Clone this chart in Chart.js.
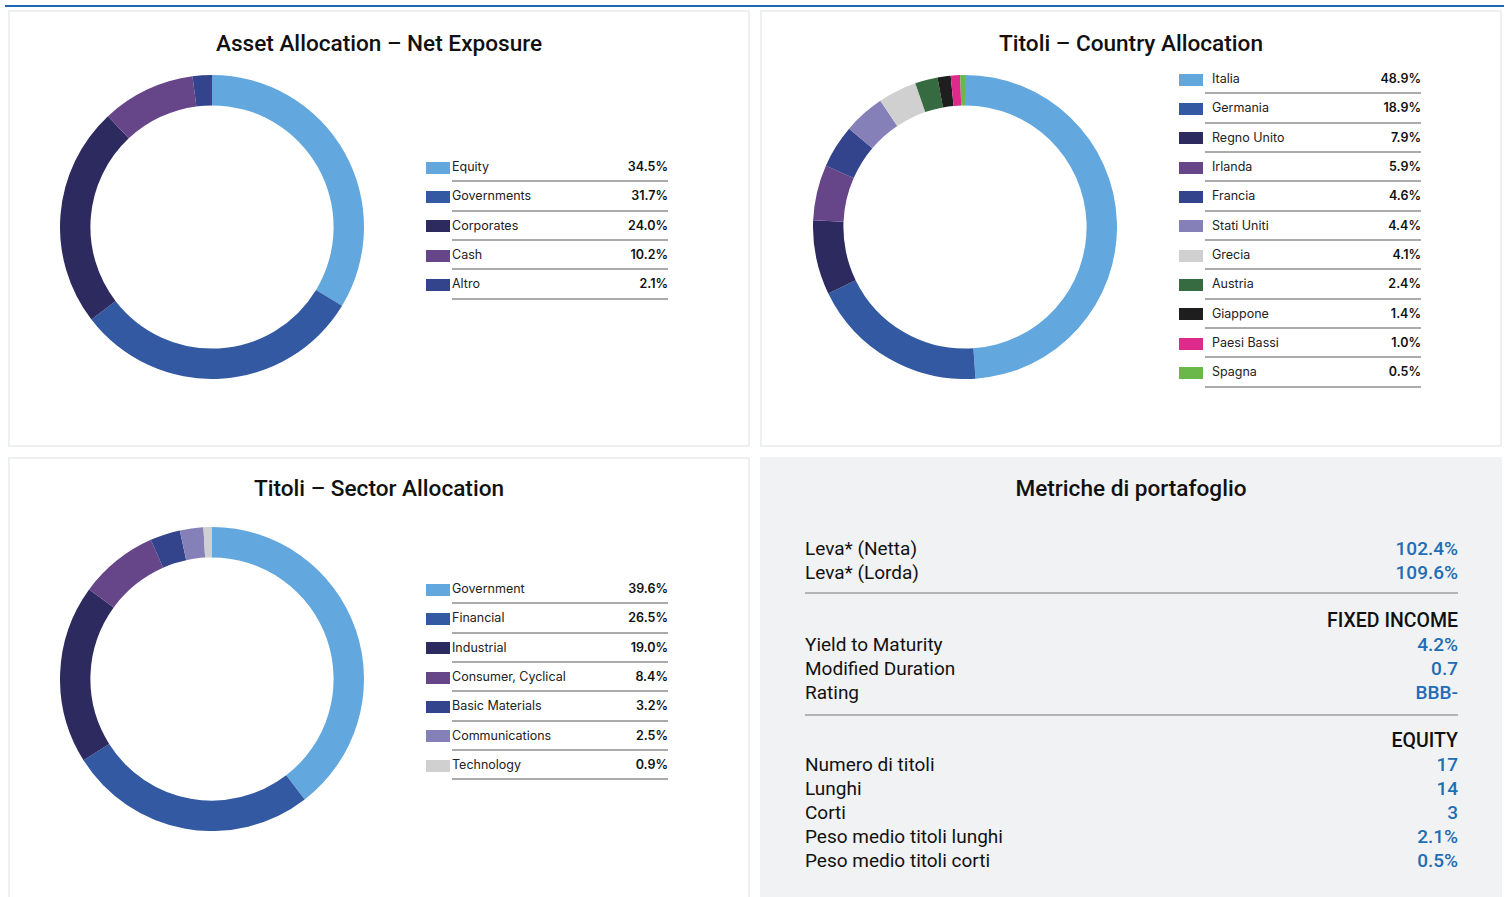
<!DOCTYPE html>
<html>
<head>
<meta charset="utf-8">
<script src="https://cdn.jsdelivr.net/npm/chart.js"></script>
<style>
  html, body { margin: 0; padding: 0; background: #fff; }
  body { width: 1510px; height: 897px; position: relative; overflow: hidden; font-family: Roboto, sans-serif; color: #111; }
  .topline { position: absolute; left: 5px; top: 5px; width: 1499px; height: 2px; background: #1a67b4; }
  .panel { position: absolute; box-sizing: border-box; border: 2px solid #eeeff1; }
  .panel.grey { background: #f1f2f4; border-color: #f1f2f4; }
  .title { position: absolute; width: 742px; text-align: center; font-size: 22.6px; font-weight: 500; color: #111; }
  .donut { position: absolute; width: 304px; height: 304px; }
  .legend { position: absolute; font-family: Inter, sans-serif; font-size: 12.5px; }
  .row { display: flex; align-items: center; height: 29.33px; }
  .sw { width: 24px; height: 12px; flex: none; margin-right: 2px; }
  .txt { flex: 1; height: 27.33px; border-bottom: 2px solid #ababab; display: flex; justify-content: space-between; align-items: center; box-sizing: content-box; color: #222; }
  .txt .v { font-weight: 600; color: #111; }
  .metrics { position: absolute; left: 805px; top: 537px; width: 653px; font-size: 19px; }
  .mrow { display: flex; justify-content: space-between; height: 24px; line-height: 24px; }
  .mrow .v { color: #1f6db5; font-weight: 500; }
  .mhead { text-align: right; height: 24px; line-height: 24px; font-weight: 500; font-size: 19.5px; }
  .sep { height: 2px; background: #b4b4b4; margin: 7px 0 15px 0; }
</style>
</head>
<body>
<div class="topline"></div>
<div class="panel" style="left:8px;top:10px;width:742px;height:437px;"></div>
<div class="panel" style="left:760px;top:10px;width:742px;height:437px;"></div>
<div class="panel" style="left:8px;top:457px;width:742px;height:450px;"></div>
<div class="panel grey" style="left:760px;top:457px;width:742px;height:450px;"></div>

<div class="title" style="left:8px;top:30px;">Asset Allocation – Net Exposure</div>
<div class="title" style="left:760px;top:30px;">Titoli – Country Allocation</div>
<div class="title" style="left:8px;top:475px;">Titoli – Sector Allocation</div>
<div class="title" style="left:760px;top:475px;">Metriche di portafoglio</div>

<div class="donut" style="left:60px;top:75px;"><canvas id="assetChart"></canvas></div>
<div class="donut" style="left:813px;top:75px;"><canvas id="countryChart"></canvas></div>
<div class="donut" style="left:60px;top:527px;"><canvas id="sectorChart"></canvas></div>

<div class="legend" id="assetLegend" style="left:426px;top:153px;width:242px;"></div>
<div class="legend" id="countryLegend" style="left:1179px;top:65px;width:242px;"></div>
<div class="legend" id="sectorLegend" style="left:426px;top:575px;width:242px;"></div>

<div class="metrics" id="metrics"></div>

<script>
// Asset Allocation - Net Exposure
const assetLabels = ['Equity', 'Governments', 'Corporates', 'Cash', 'Altro'];
const assetValues = [34.5, 31.7, 24.0, 10.2, 2.1];

// Titoli - Country Allocation
const countryLabels = ['Italia', 'Germania', 'Regno Unito', 'Irlanda', 'Francia', 'Stati Uniti', 'Grecia', 'Austria', 'Giappone', 'Paesi Bassi', 'Spagna'];
const countryValues = [48.9, 18.9, 7.9, 5.9, 4.6, 4.4, 4.1, 2.4, 1.4, 1.0, 0.5];

// Titoli - Sector Allocation
const sectorLabels = ['Government', 'Financial', 'Industrial', 'Consumer, Cyclical', 'Basic Materials', 'Communications', 'Technology'];
const sectorValues = [39.6, 26.5, 19.0, 8.4, 3.2, 2.5, 0.9];

// Metriche di portafoglio
const levaLabels = ['Leva* (Netta)', 'Leva* (Lorda)'];
const levaValues = ['102.4%', '109.6%'];
const fixedLabels = ['Yield to Maturity', 'Modified Duration', 'Rating'];
const fixedValues = ['4.2%', '0.7', 'BBB-'];
const equityLabels = ['Numero di titoli', 'Lunghi', 'Corti', 'Peso medio titoli lunghi', 'Peso medio titoli corti'];
const equityValues = ['17', '14', '3', '2.1%', '0.5%'];

const palette = ['#62a7dd', '#3259a1', '#2c2a5e', '#664689', '#33438c', '#8680b8', '#d0d0d0', '#366b41', '#1e1e1e', '#de2a8a', '#6ab84a'];

function makeDonut(id, labels, values) {
    new Chart(document.getElementById(id), {
        type: 'doughnut',
        data: {
            labels: labels,
            datasets: [{
                data: values,
                backgroundColor: palette.slice(0, values.length),
                borderWidth: 0
            }]
        },
        options: {
            responsive: true,
            maintainAspectRatio: false,
            animation: false,
            cutout: '80%',
            layout: { padding: 0 },
            plugins: { legend: { display: false }, tooltip: { enabled: false } }
        }
    });
}

function makeLegend(id, labels, values) {
    const el = document.getElementById(id);
    let html = '';
    labels.forEach((label, i) => {
        html += '<div class="row"><div class="sw" style="background:' + palette[i] + '"></div>' +
            '<div class="txt"><span>' + label + '</span><span class="v">' + values[i].toFixed(1) + '%</span></div></div>';
    });
    el.innerHTML = html;
}

makeDonut('assetChart', assetLabels, assetValues);
makeDonut('countryChart', countryLabels, countryValues);
makeDonut('sectorChart', sectorLabels, sectorValues);

makeLegend('assetLegend', assetLabels, assetValues);
makeLegend('countryLegend', countryLabels, countryValues);
makeLegend('sectorLegend', sectorLabels, sectorValues);
// country legend has text indented inside the line
document.querySelectorAll('#countryLegend .txt span:first-child').forEach(s => s.style.paddingLeft = '7px');

function rows(labels, values) {
    return labels.map((l, i) => '<div class="mrow"><span>' + l + '</span><span class="v">' + values[i] + '</span></div>').join('');
}
document.getElementById('metrics').innerHTML =
    rows(levaLabels, levaValues) +
    '<div class="sep"></div><div class="mhead">FIXED INCOME</div>' +
    rows(fixedLabels, fixedValues) +
    '<div class="sep" style="margin-top:9px;margin-bottom:13px"></div><div class="mhead">EQUITY</div>' +
    rows(equityLabels, equityValues);
</script>
</body>
</html>
